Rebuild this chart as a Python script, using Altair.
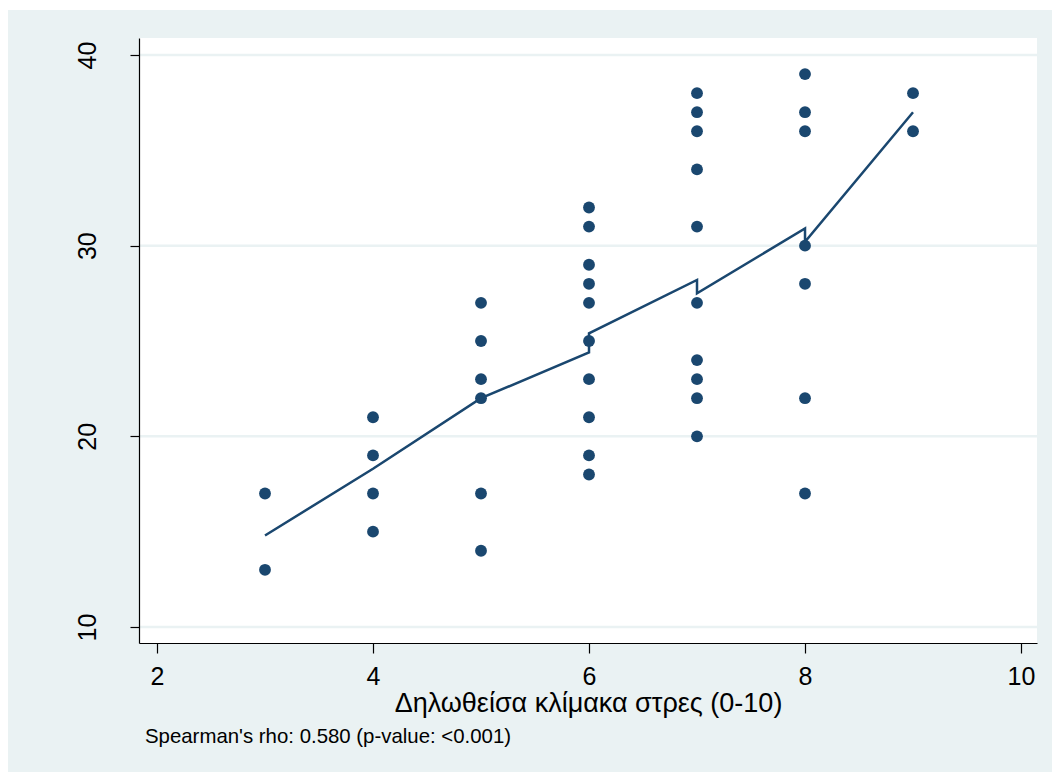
import altair as alt
import pandas as pd

# Observations: self-reported stress level (0-10) and score
stress = [3, 3,
          4, 4, 4, 4,
          5, 5, 5, 5, 5, 5,
          6, 6, 6, 6, 6, 6, 6, 6, 6, 6,
          7, 7, 7, 7, 7, 7, 7, 7, 7, 7,
          8, 8, 8, 8, 8, 8, 8,
          9, 9]
score = [17, 13,
         21, 19, 17, 15,
         27, 25, 23, 22, 17, 14,
         32, 31, 29, 28, 27, 25, 23, 21, 19, 18,
         38, 37, 36, 34, 31, 27, 24, 23, 22, 20,
         39, 37, 36, 30, 28, 22, 17,
         38, 36]

# Fitted curve, in plotting order (repeated x values give the small jumps)
fit_stress = [3, 4, 5, 6, 6, 7, 7, 8, 8, 9]
fit_score = [14.8, 18.3, 22.0, 24.4, 25.4, 28.2, 27.5, 30.9, 30.2, 37.0]

x_ticks = [2, 4, 6, 8, 10]
y_ticks = [10, 20, 30, 40]

x_title = "Δηλωθείσα κλίμακα στρες (0-10)"
note = "Spearman's rho: 0.580 (p-value: <0.001)"

FONT = "Liberation Sans"
NAVY = "#1A476F"
BG = "#EAF2F3"
GRID = "#EAF2F3"

W, H = 898, 605
PAD = {"left": 139, "top": 38, "right": 15, "bottom": 129}

points_df = pd.DataFrame({"stress": stress, "score": score})
fit_df = pd.DataFrame({"stress": fit_stress, "score": fit_score,
                       "step": list(range(len(fit_stress)))})

xscale = alt.Scale(domain=[1.8333, 10.148], nice=False, zero=False)
yscale = alt.Scale(domain=[9.161, 40.892], nice=False, zero=False)

xaxis = alt.Axis(values=x_ticks, title=x_title, grid=False, zindex=1,
                 domainColor="black", domainWidth=1.2,
                 tickColor="black", tickWidth=1.2, tickSize=10,
                 labelFont=FONT, labelFontSize=25, labelColor="black",
                 labelBaseline="alphabetic", labelPadding=31,
                 labelFlush=False, labelOverlap=False,
                 titleFont=FONT, titleFontSize=27, titleFontWeight="normal",
                 titleColor="black", titleX=W / 2, titleY=68,
                 titleAlign="center", titleBaseline="alphabetic")
yaxis = alt.Axis(values=y_ticks, title=None, grid=False, zindex=1,
                 domainColor="black", domainWidth=1.2,
                 tickColor="black", tickWidth=1.2, tickSize=9,
                 labelFont=FONT, labelFontSize=25, labelColor="black",
                 labelAngle=-90, labelAlign="center",
                 labelBaseline="alphabetic", labelPadding=35,
                 labelFlush=False, labelOverlap=False)

one = pd.DataFrame({"k": [0]})

outer_bg = alt.Chart(one).mark_rect(color=BG).encode(
    x=alt.value(-PAD["left"] + 8), x2=alt.value(W + PAD["right"]),
    y=alt.value(-PAD["top"] + 10), y2=alt.value(H + PAD["bottom"]))

plot_bg = alt.Chart(one).mark_rect(color="white").encode(
    x=alt.value(0), x2=alt.value(W), y=alt.value(0), y2=alt.value(H))

grid = alt.Chart(pd.DataFrame({"score": y_ticks})).mark_rule(
    color=GRID, strokeWidth=2.5).encode(
    y=alt.Y("score:Q", scale=yscale, axis=yaxis))

fit_line = alt.Chart(fit_df).mark_line(color=NAVY, strokeWidth=2.5).encode(
    x=alt.X("stress:Q", scale=xscale, axis=xaxis),
    y=alt.Y("score:Q", scale=yscale, axis=yaxis),
    order="step:O")

dots = alt.Chart(points_df).mark_circle(color=NAVY, size=140, opacity=1).encode(
    x=alt.X("stress:Q", scale=xscale, axis=xaxis),
    y=alt.Y("score:Q", scale=yscale, axis=yaxis))

note_text = alt.Chart(pd.DataFrame({"t": [note]})).mark_text(
    align="left", baseline="alphabetic", font=FONT, fontSize=20.4,
    color="black").encode(
    text="t:N", x=alt.value(6), y=alt.value(705))

chart = alt.layer(outer_bg, plot_bg, grid, fit_line, dots, note_text).properties(
    width=W, height=H, padding=PAD,
    autosize=alt.AutoSizeParams(type="none"),
    background="white",
).configure_view(strokeWidth=0)

chart.save("out.html", embed_options={"renderer": "svg", "actions": False})
